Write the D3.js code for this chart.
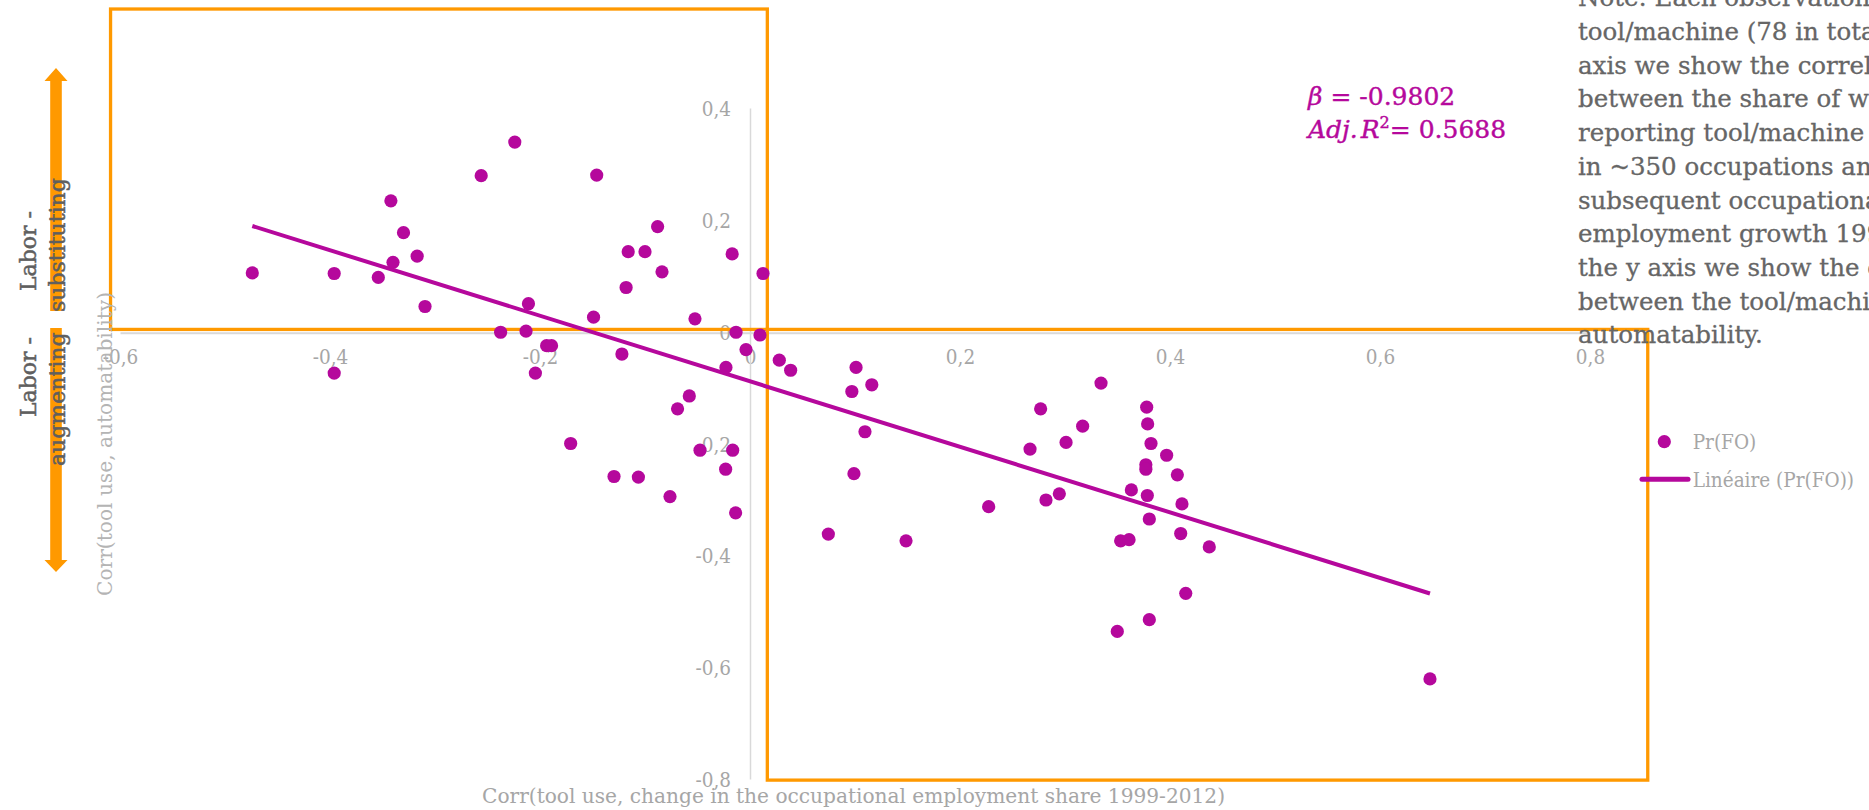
<!DOCTYPE html>
<html>
<head>
<meta charset="utf-8">
<script src="https://cdn.jsdelivr.net/npm/d3@7"></script>
<style>
  html, body { margin: 0; padding: 0; background: #ffffff; }
  svg { display: block; }
  .cond { font-family: "DejaVu Serif Condensed", "DejaVu Serif", serif; font-stretch: condensed; }
  .serif { font-family: "DejaVu Serif", serif; }
</style>
</head>
<body>
<svg id="chart" width="1869" height="810"></svg>
<script>
// Series Pr(FO): one point per tool/machine
const xValues = [
  -0.474, -0.396, -0.354, -0.342, -0.330, -0.340, -0.317, -0.3095, -0.256, -0.224,
  -0.146, -0.2375, -0.2133, -0.211, -0.1937, -0.189, -0.2044, -0.396, -0.149, -0.122,
  -0.118, -0.116, -0.100, -0.088, -0.0838, -0.0524, -0.017, -0.0229, -0.0578, -0.069,
  -0.0133, -0.1708, -0.1295, -0.1063, -0.0762, -0.0476, -0.0165, -0.0232, -0.0137, -0.0038,
  0.0095, 0.0279, 0.0387, 0.101, 0.097, 0.116, 0.1095, 0.099, 0.0746, 0.0124,
  0.1486, 0.2273, 0.2667, 0.2768, 0.2819, 0.2946, 0.301, 0.3168, 0.3343, 0.3498,
  0.353, 0.361, 0.3632, 0.3778, 0.3787, 0.3819, 0.377, 0.377, 0.3784, 0.3803,
  0.3803, 0.3968, 0.407, 0.4114, 0.4102, 0.4374, 0.415, 0.6476
];
const yValues = [
  0.105, 0.104, 0.097, 0.234, 0.177, 0.124, 0.135, 0.045, 0.279, 0.339,
  0.280, -0.001, 0.001, 0.050, -0.025, -0.025, -0.074, -0.074, 0.026, -0.040,
  0.079, 0.143, 0.143, 0.188, 0.107, 0.023, 0.139, -0.064, -0.115, -0.138,
  -0.001, -0.200, -0.259, -0.260, -0.295, -0.212, -0.212, -0.246, -0.324, -0.032,
  -0.006, -0.051, -0.069, -0.064, -0.107, -0.095, -0.179, -0.254, -0.362, 0.104,
  -0.374, -0.313, -0.210, -0.138, -0.301, -0.290, -0.198, -0.169, -0.092, -0.536,
  -0.374, -0.372, -0.283, -0.135, -0.165, -0.200, -0.238, -0.246, -0.293, -0.335,
  -0.515, -0.221, -0.256, -0.308, -0.361, -0.385, -0.468, -0.621
];

const xTickValues = [-0.6, -0.4, -0.2, 0, 0.2, 0.4, 0.6, 0.8];
const yTickValues = [-0.8, -0.6, -0.4, -0.2, 0, 0.2, 0.4];

const seriesName = "Pr(FO)";
const trendName = "Linéaire (Pr(FO))";
const xTitle = "Corr(tool use, change in the occupational employment share 1999-2012)";
const yTitle = "Corr(tool use, automatability)";
const betaValue = "-0.9802";
const adjR2Value = "0.5688";

// Quadrants highlighted in orange (data units)
const substitutingX = [-0.609, 0.0165];
const substitutingY = [0.004, 0.577];
const augmentingX = [0.0165, 0.855];
const augmentingY = [-0.802, 0.004];

const noteLines = [
  "Note: Each observation is a",
  "tool/machine (78 in total). On the x",
  "axis we show the correlation",
  "between the share of workers",
  "reporting tool/machine use",
  "in ~350 occupations and the",
  "subsequent occupational",
  "employment growth 1999-2012. On",
  "the y axis we show the correlation",
  "between the tool/machine use and",
  "automatability."
];

const magenta = "#b5089c";
const orange = "#ff9900";
const tickGrey = "#a6a6a6";

const svg = d3.select("#chart");
svg.append("rect").attr("width", 1869).attr("height", 810).attr("fill", "#ffffff");

const x = d3.scaleLinear().domain([-0.6, 0.8]).range([120, 1590]);
const y = d3.scaleLinear().domain([-0.8, 0.4]).range([779, 108]);

const locale = d3.formatLocale({ decimal: ",", thousands: " ", grouping: [3], currency: ["", ""], minus: "-" });
const fmt = v => (v === 0 ? "0" : locale.format(".1f")(v));

// Axes
const xAxis = svg.append("g")
  .attr("transform", `translate(0,${y(0) + 1})`)
  .call(d3.axisBottom(x).tickValues(xTickValues).tickSize(0).tickPadding(0).tickFormat(fmt));
xAxis.select(".domain").attr("stroke", "#d9d9d9").attr("stroke-width", 2);
xAxis.selectAll("text")
  .attr("class", "cond")
  .attr("font-size", 20.5)
  .attr("fill", tickGrey)
  .attr("dy", null)
  .attr("y", 31);

const yAxis = svg.append("g")
  .attr("transform", `translate(${x(0)},0)`)
  .call(d3.axisLeft(y).tickValues(yTickValues).tickSize(0).tickPadding(19).tickFormat(fmt));
yAxis.select(".domain").attr("stroke", "#d9d9d9").attr("stroke-width", 1.5);
yAxis.selectAll("text")
  .attr("class", "cond")
  .attr("font-size", 20.5)
  .attr("fill", tickGrey)
  .attr("dy", null)
  .attr("y", 7.5);

// Orange quadrant outlines
[[substitutingX, substitutingY], [augmentingX, augmentingY]].forEach(([bx, by]) => {
  svg.append("rect")
    .attr("x", x(bx[0]))
    .attr("y", y(by[1]))
    .attr("width", x(bx[1]) - x(bx[0]))
    .attr("height", y(by[0]) - y(by[1]))
    .attr("fill", "none")
    .attr("stroke", orange)
    .attr("stroke-width", 3.3);
});

// Least-squares trend line over the data range
const n = xValues.length;
const mx = d3.mean(xValues), my = d3.mean(yValues);
let sxy = 0, sxx = 0;
for (let i = 0; i < n; i++) {
  sxy += (xValues[i] - mx) * (yValues[i] - my);
  sxx += (xValues[i] - mx) ** 2;
}
const slope = sxy / sxx;
const intercept = my - slope * mx;
const [xmin, xmax] = d3.extent(xValues);
svg.append("path")
  .datum([xmin, xmax])
  .attr("d", d3.line().x(d => x(d)).y(d => y(intercept + slope * d)))
  .attr("stroke", magenta)
  .attr("stroke-width", 4)
  .attr("fill", "none");

// Points
svg.append("g").selectAll("circle")
  .data(d3.range(n))
  .join("circle")
  .attr("cx", i => x(xValues[i]))
  .attr("cy", i => y(yValues[i]))
  .attr("r", 6.6)
  .attr("fill", magenta);

// Axis titles
svg.append("text")
  .attr("class", "cond")
  .attr("x", 482).attr("y", 803)
  .attr("font-size", 20.5)
  .attr("fill", tickGrey)
  .attr("textLength", 743)
  .attr("lengthAdjust", "spacingAndGlyphs")
  .text(xTitle);

svg.append("text")
  .attr("class", "serif")
  .attr("transform", "translate(112,596) rotate(-90)")
  .attr("font-size", 20)
  .attr("fill", "#b4b4b4")
  .attr("textLength", 304)
  .attr("lengthAdjust", "spacingAndGlyphs")
  .text(yTitle);

// Left-hand double arrow
const arrowUp = `M56,68 L67.5,81 L61.8,81 L61.8,311 L50.2,311 L50.2,81 L44.5,81 Z`;
const arrowDown = `M56,572 L67.5,560 L61.8,560 L61.8,328 L50.2,328 L50.2,560 L44.5,560 Z`;
svg.append("path").attr("d", arrowUp).attr("fill", orange);
svg.append("path").attr("d", arrowDown).attr("fill", orange);

const sideLabels = [
  { t: "Labor -", bx: 36, start: 291 },
  { t: "substituting", bx: 65, start: 312 },
  { t: "Labor -", bx: 36, start: 417 },
  { t: "augmenting", bx: 65, start: 466 }
];
svg.append("g").selectAll("text")
  .data(sideLabels)
  .join("text")
  .attr("class", "serif")
  .attr("transform", d => `translate(${d.bx},${d.start}) rotate(-90)`)
  .attr("font-size", 22)
  .attr("fill", "#5f5f5f")
  .attr("stroke", "#5f5f5f")
  .attr("stroke-width", 0.5)
  .text(d => d.t);

// Regression statistics
const stats = svg.append("g").attr("class", "serif").attr("fill", magenta)
  .attr("stroke", magenta).attr("stroke-width", 0.4).attr("font-size", 25);
const l1 = stats.append("text").attr("x", 1308).attr("y", 105);
l1.append("tspan").attr("font-style", "italic").text("β");
l1.append("tspan").text(" = " + betaValue);
const l2 = stats.append("text").attr("x", 1308).attr("y", 138);
l2.append("tspan").attr("font-style", "italic").text("Adj.");
l2.append("tspan").attr("font-style", "italic").attr("dx", 3).text("R");
l2.append("tspan").attr("font-size", 16).attr("dy", -10).text("2");
l2.append("tspan").attr("dy", 10).text("= " + adjR2Value);

// Note
svg.append("g").selectAll("text")
  .data(noteLines)
  .join("text")
  .attr("class", "serif")
  .attr("x", 1578)
  .attr("y", (d, i) => 6.3 + i * 33.7)
  .attr("font-size", 24.5)
  .attr("fill", "#666666")
  .attr("stroke", "#666666")
  .attr("stroke-width", 0.3)
  .text(d => d);

// Legend
const legend = svg.append("g");
legend.append("circle").attr("cx", 1664.3).attr("cy", 441.7).attr("r", 6.6).attr("fill", magenta);
legend.append("text").attr("class", "cond").attr("x", 1692.7).attr("y", 449)
  .attr("font-size", 20.5).attr("fill", tickGrey).text(seriesName);
legend.append("line").attr("x1", 1642).attr("x2", 1688).attr("y1", 479.3).attr("y2", 479.3)
  .attr("stroke", magenta).attr("stroke-width", 5).attr("stroke-linecap", "round");
legend.append("text").attr("class", "cond").attr("x", 1692.7).attr("y", 486.5)
  .attr("font-size", 20.5).attr("fill", tickGrey).text(trendName);
</script>
</body>
</html>
